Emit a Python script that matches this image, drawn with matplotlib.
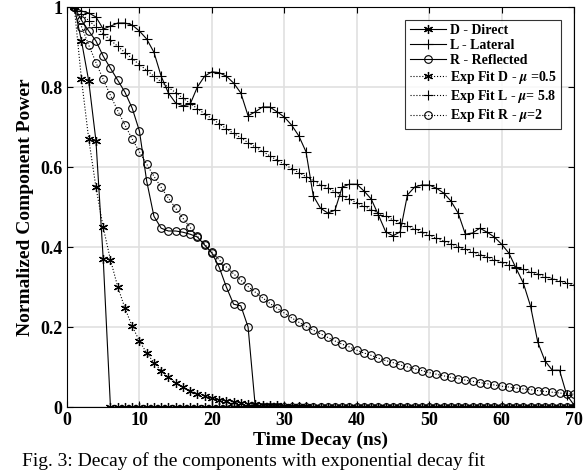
import numpy as np
import matplotlib
matplotlib.use("Agg")
import matplotlib.pyplot as plt

plt.rcParams['font.family'] = ['Liberation Serif', 'DejaVu Serif']
plt.rcParams['font.weight'] = 'bold'
plt.rcParams['axes.labelweight'] = 'bold'
plt.rcParams['mathtext.fontset'] = 'stix'

# time axis (ns)
t = np.arange(1, 71)

# measured components
d_direct = [1.0, 0.915, 0.815, 0.665, 0.37] + [0.0] * 65

l_lateral = [1.0, 0.99, 0.985, 0.975, 0.945, 0.952, 0.96, 0.96, 0.955, 0.94,
             0.92, 0.887, 0.827, 0.785, 0.76, 0.753, 0.757, 0.80, 0.827, 0.838,
             0.836, 0.827, 0.81, 0.785, 0.728, 0.738, 0.75, 0.75, 0.738, 0.725,
             0.705, 0.678, 0.638, 0.528, 0.497, 0.485, 0.492, 0.55, 0.557, 0.557,
             0.54, 0.52, 0.48, 0.438, 0.428, 0.438, 0.53, 0.55, 0.555, 0.555,
             0.547, 0.535, 0.515, 0.485, 0.432, 0.435, 0.447, 0.437, 0.425, 0.407,
             0.385, 0.347, 0.31, 0.252, 0.162, 0.115, 0.092, 0.092, 0.03, 0.005]

r_reflected = [1.0, 0.967, 0.94, 0.915, 0.877, 0.847, 0.817, 0.787, 0.747, 0.69,
               0.565, 0.477, 0.447, 0.44, 0.44, 0.437, 0.432, 0.425, 0.405, 0.385,
               0.35, 0.30, 0.257, 0.253, 0.20] + [0.0] * 45

# exponential fits
d_fit = [1.0, 0.819, 0.670, 0.549, 0.449, 0.368, 0.301, 0.247, 0.202, 0.165,
         0.135, 0.111, 0.091, 0.074, 0.061, 0.050, 0.041, 0.033, 0.027, 0.022,
         0.018, 0.015, 0.012, 0.010, 0.008, 0.007, 0.006, 0.005, 0.004, 0.003,
         0.002, 0.002, 0.002, 0.001, 0.001] + [0.001] * 10 + [0.0] * 25

l_fit = [1.000, 0.983, 0.966, 0.950, 0.933, 0.917, 0.902, 0.886, 0.871, 0.856,
         0.842, 0.827, 0.813, 0.799, 0.786, 0.772, 0.759, 0.746, 0.733, 0.721,
         0.708, 0.696, 0.684, 0.673, 0.661, 0.650, 0.639, 0.628, 0.617, 0.607,
         0.596, 0.586, 0.576, 0.566, 0.556, 0.547, 0.538, 0.528, 0.519, 0.511,
         0.502, 0.493, 0.485, 0.477, 0.468, 0.460, 0.453, 0.445, 0.437, 0.430,
         0.422, 0.415, 0.408, 0.401, 0.394, 0.388, 0.381, 0.375, 0.368, 0.362,
         0.356, 0.350, 0.344, 0.338, 0.332, 0.326, 0.321, 0.315, 0.310, 0.305]

r_fit = [1.000, 0.951, 0.905, 0.861, 0.819, 0.779, 0.741, 0.705, 0.670, 0.638,
         0.607, 0.577, 0.549, 0.522, 0.497, 0.472, 0.449, 0.427, 0.407, 0.387,
         0.368, 0.350, 0.333, 0.317, 0.301, 0.287, 0.273, 0.259, 0.247, 0.235,
         0.223, 0.212, 0.202, 0.192, 0.183, 0.174, 0.165, 0.157, 0.150, 0.142,
         0.135, 0.129, 0.122, 0.116, 0.111, 0.105, 0.100, 0.095, 0.091, 0.086,
         0.082, 0.078, 0.074, 0.071, 0.067, 0.064, 0.061, 0.058, 0.055, 0.052,
         0.050, 0.047, 0.045, 0.043, 0.041, 0.039, 0.037, 0.035, 0.033, 0.032]

x_ticks = [0, 10, 20, 30, 40, 50, 60, 70]
y_ticks = [0, 0.2, 0.4, 0.6, 0.8, 1]
y_labels = ['0', '0.2', '0.4', '0.6', '0.8', '1']

fig = plt.figure(figsize=(5.84, 4.72), dpi=100)
ax = fig.add_axes([67 / 584, 65 / 472, 507 / 584, 400 / 472])

star = (6, 2, 0)
lw = 0.8
ax.plot(t, d_direct, '-', color='k', lw=lw, marker=star, ms=6.5, mew=0.9,
        label='D - Direct')
ax.plot(t, l_lateral, '-', color='k', lw=lw, marker='+', ms=7, mew=0.8,
        label='L - Lateral')
ax.plot(t, r_reflected, '-', color='k', lw=lw, marker='o', ms=5.5, mew=0.8,
        mfc='none', label='R - Reflected')
ax.plot(t, d_fit, ':', color='k', lw=lw, marker=star, ms=6.5, mew=0.9,
        label=r'Exp Fit D - $\mu$ =0.5')
ax.plot(t, l_fit, ':', color='k', lw=lw, marker='+', ms=7, mew=0.8,
        label=r'Exp Fit L - $\mu$= 5.8')
ax.plot(t, r_fit, ':', color='k', lw=lw, marker='o', ms=5.5, mew=0.8,
        mfc='none', label=r'Exp Fit R - $\mu$=2')

ax.set_xlim(0, 70)
ax.set_ylim(0, 1)
ax.set_xticks(x_ticks)
ax.set_yticks(y_ticks)
ax.set_yticklabels(y_labels)
ax.tick_params(direction='in', top=True, right=True, labelsize=13, length=4, width=0.8)
ax.grid(True, color='#e0e0e0', lw=1.2)
ax.set_axisbelow(True)
for s in ax.spines.values():
    s.set_linewidth(0.8)

ax.set_xlabel('Time Decay (ns)', fontsize=14, labelpad=2)
ax.set_ylabel('Normalized Component Power', fontsize=14, labelpad=4)

leg = ax.legend(loc='upper right', bbox_to_anchor=(0.974, 0.968), fontsize=10,
                frameon=True, fancybox=False, borderpad=0.3, labelspacing=0.15,
                handlelength=2.6, handletextpad=0.3, borderaxespad=0)
leg.get_frame().set_edgecolor('k')
leg.get_frame().set_linewidth(0.8)

# figure caption at the bottom edge
fig.text(22 / 584, 6 / 472, 'Fig. 3: Decay of the components with exponential decay fit',
         fontsize=14, fontweight='normal', va='baseline', ha='left')

fig.savefig('out.png', dpi=100)
